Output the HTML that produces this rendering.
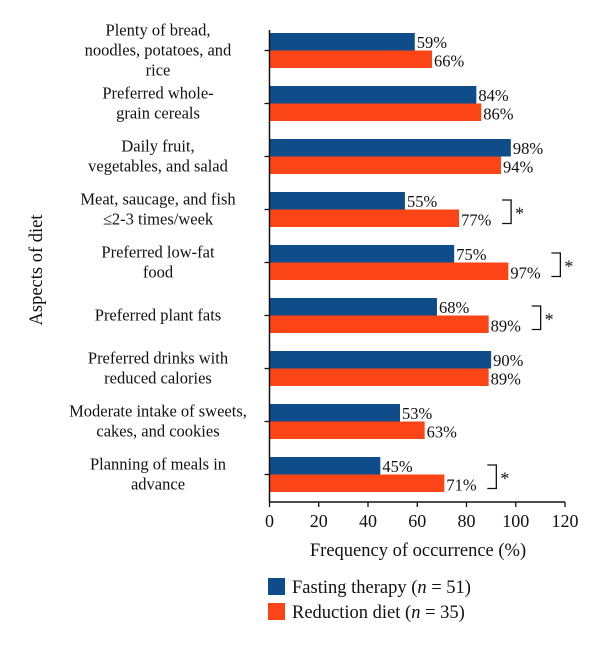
<!DOCTYPE html>
<html><head><meta charset="utf-8"><style>
body{margin:0;background:#fff}
svg text{font-family:"Liberation Serif",serif;fill:#111}
</style></head><body>
<svg width="600" height="648" xmlns="http://www.w3.org/2000/svg">
<g id="g"></g>
</svg>
<script>
const categories=[["Plenty of bread,","noodles, potatoes, and","rice"],["Preferred whole-","grain cereals"],["Daily fruit,","vegetables, and salad"],["Meat, saucage, and fish","≤2-3 times/week"],["Preferred low-fat","food"],["Preferred plant fats"],["Preferred drinks with","reduced calories"],["Moderate intake of sweets,","cakes, and cookies"],["Planning of meals in","advance"]];
const fasting=[59,84,98,55,75,68,90,53,45];
const reduction=[66,86,94,77,97,89,89,63,71];
const significant=[false,false,false,true,true,true,false,false,true];
const ticks=[0,20,40,60,80,100,120];
const NS="http://www.w3.org/2000/svg";
const g=document.getElementById('g');
const x0=269.5,x1=565,top0=33,pitch=53,bh=17.5,axisY=502;
const xs=v=>x0+(x1-x0)*v/120;
function mk(t,a,txt){const e=document.createElementNS(NS,t);for(const k in a)e.setAttribute(k,a[k]);if(txt!==undefined)e.textContent=txt;g.appendChild(e);return e;}
categories.forEach((c,i)=>{
 const y=top0+i*pitch;
 let e=mk('rect',{x:x0,y:y,width:xs(fasting[i])-x0,height:bh,fill:'#0f4c8a'});
 
 e=mk('rect',{x:x0,y:y+bh,width:xs(reduction[i])-x0,height:bh,fill:'#fb4516'});
 
 e=mk('text',{x:xs(fasting[i])+2,y:y+15,'font-size':16.5},fasting[i]+'%');
 
 e=mk('text',{x:xs(reduction[i])+2,y:y+bh+16,'font-size':16.5},reduction[i]+'%');
 
 const cy=y+bh, n=c.length;
 c.forEach((ln,j)=>{e=mk('text',{x:158,y:cy+5+(j-(n-1)/2)*20,'font-size':16.5,'text-anchor':'middle'},ln);
  });
 mk('line',{x1:x0-5,x2:x0,y1:cy,y2:cy,stroke:'#111','stroke-width':1.3});
 if(significant[i]){
  const bx=xs(reduction[i])+52;
  e=mk('path',{d:`M${bx-9} ${y+8}H${bx}V${y+bh+14}H${bx-9}`,fill:'none',stroke:'#111','stroke-width':1.3});
  
  e=mk('text',{x:bx+4,y:y+bh+10,'font-size':18},'*');
  
 }
});
let e=mk('line',{x1:x0,x2:x0,y1:top0-3,y2:axisY,stroke:'#111','stroke-width':1.5});

e=mk('line',{x1:x0,x2:x1,y1:axisY,y2:axisY,stroke:'#111','stroke-width':1.5});

ticks.forEach(t=>{mk('line',{x1:xs(t),x2:xs(t),y1:axisY,y2:axisY+5,stroke:'#111','stroke-width':1.3});
 e=mk('text',{x:xs(t),y:527,'font-size':18,'text-anchor':'middle'},t);
 });
e=mk('text',{x:418,y:556,'font-size':18.5,'text-anchor':'middle'},'Frequency of occurrence (%)');

e=mk('text',{x:0,y:0,'font-size':18.5,'text-anchor':'middle',transform:'translate(42,270) rotate(-90)'},'Aspects of diet');

const leg=[['#0f4c8a','Fasting therapy (','51)'],['#fb4516','Reduction diet (','35)']];
leg.forEach((l,i)=>{const y=578+i*25;
 e=mk('rect',{x:268,y:y,width:17,height:17,fill:l[0]});
 
 e=mk('text',{x:292,y:y+15,'font-size':18.5});
 
 e.innerHTML=l[1]+'<tspan font-style="italic">n</tspan> = '+l[2];
});
</script>
</body></html>
